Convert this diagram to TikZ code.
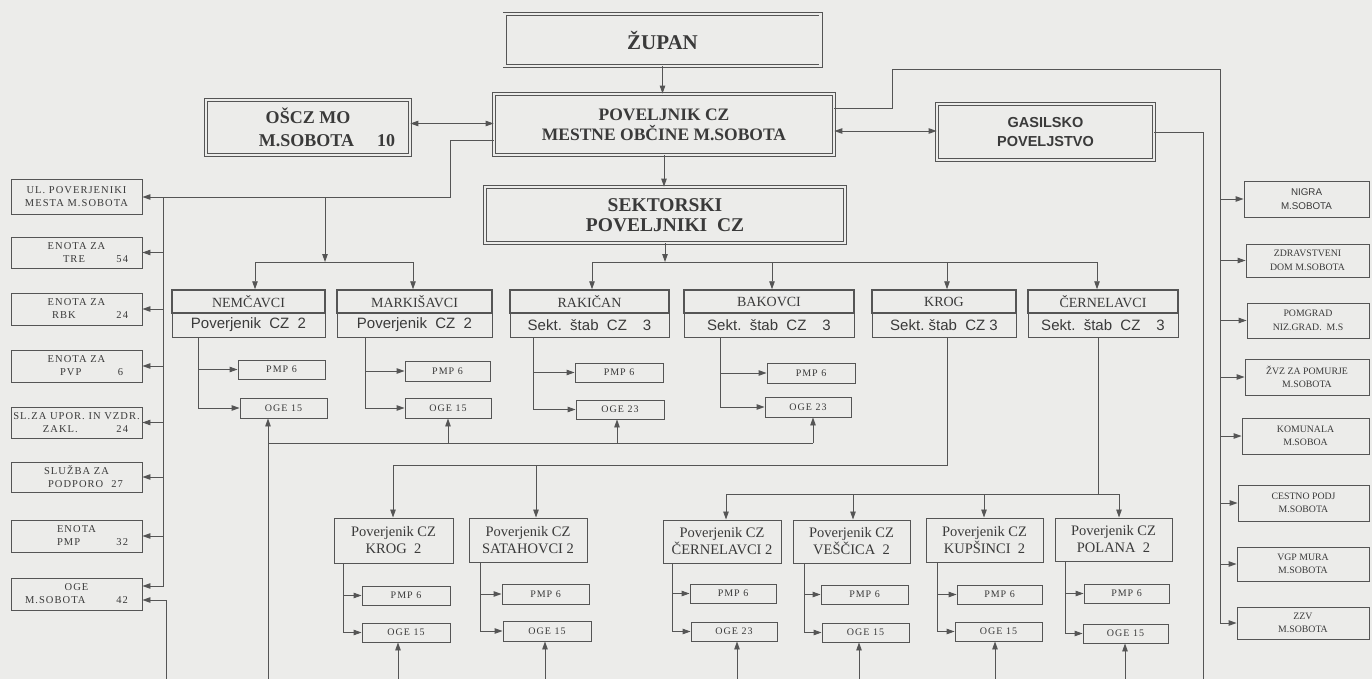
\documentclass[tikz,border=0pt]{standalone}
\usepackage{fontspec}
\setmainfont{Liberation Serif}
\newfontfamily\sansf{Liberation Sans}
\newfontfamily\lsp[LetterSpace=10]{Liberation Serif}
\usetikzlibrary{arrows.meta}
\definecolor{bg}{RGB}{236,236,234}
\definecolor{lc}{RGB}{85,85,85}
\definecolor{tc}{RGB}{58,58,58}
\newcommand\ltwo[4]{\hbox to 131pt{\hspace*{#1pt}#2\hfill#3\hspace*{#4pt}}}
\tikzset{
 wh/.style 2 args={minimum width=#1pt, minimum height=#2pt},
 ln/.style={draw=lc, line width=0.9pt},
 arr/.style={draw=lc, line width=0.9pt, -{Triangle[length=8pt,width=5.5pt]}},
 darr/.style={draw=lc, line width=0.9pt, {Triangle[length=8pt,width=5.5pt]}-{Triangle[length=8pt,width=5.5pt]}},
 big/.style={draw=lc, double=bg, double distance=2.4pt, line width=0.8pt, align=center, text=tc, inner sep=0pt},
 hdr/.style={draw=lc, line width=1.5pt, inner sep=0pt, text=tc, font=\fontsize{14}{16}\selectfont},
 low/.style={draw=lc, line width=1pt, inner sep=0pt, text=tc, font=\sansf\fontsize{15}{17}\selectfont},
 sub/.style={draw=lc, line width=0.9pt, inner sep=0pt, text=tc, font=\lsp\fontsize{10}{12}\selectfont},
 pov/.style={draw=lc, line width=1pt, inner sep=0pt, align=center, text=tc, font=\fontsize{14.5}{17}\selectfont},
 lbox/.style={draw=lc, line width=0.9pt, inner sep=0pt, align=center, text=tc, wh={131}{#1}, font=\lsp\fontsize{10.5}{13}\selectfont},
 rbox/.style={draw=lc, line width=0.9pt, inner sep=0pt, align=center, text=tc, font=\fontsize{9.8}{13.5}\selectfont},
}
\begin{document}
\begin{tikzpicture}[x=1pt,y=-1pt]
\fill[bg] (0,0) rectangle (1372,679);
\useasboundingbox (0,0) rectangle (1372,679);

% top level
\node[big, wh={316}{52}, font=\bfseries\fontsize{21}{24}\selectfont] (zupan) at (662.5,40) {ŽUPAN};
\node[big, wh={340}{61}, font=\bfseries\fontsize{17.5}{20}\selectfont] (povel) at (664,124.5) {POVELJNIK CZ\\MESTNE OBČINE M.SOBOTA};
\node[big, wh={360}{56}, font=\bfseries\fontsize{19.5}{20.5}\selectfont] (sekt) at (665,215) {SEKTORSKI\\POVELJNIKI\ \ CZ};
\node[big, wh={204}{55}, font=\bfseries\fontsize{18}{23}\selectfont] (oscz) at (308,127.5) {OŠCZ MO\\\hspace*{38pt}M.SOBOTA\hspace{23pt}10};
\node[big, wh={217}{56}, font=\sansf\bfseries\fontsize{14.5}{19}\selectfont] (gas) at (1045.5,132) {GASILSKO\\POVELJSTVO};

% left column
\node[lbox=35] (ul) at (76.5,197) {UL. POVERJENIKI\\MESTA M.SOBOTA};
\node[lbox=31] (tre) at (76.5,252.5) {ENOTA ZA\\\ltwo{52}{TRE}{54}{14}};
\node[lbox=32] (rbk) at (76.5,309) {ENOTA ZA\\\ltwo{41}{RBK}{24}{14}};
\node[lbox=32] (pvp) at (76.5,366) {ENOTA ZA\\\ltwo{49}{PVP}{6}{19}};
\node[lbox=31] (sl) at (76.5,422.5) {SL.ZA UPOR. IN VZDR.\\\ltwo{32}{ZAKL.}{24}{14}};
\node[lbox=30] (slu) at (76.5,477) {SLUŽBA ZA\\\ltwo{37}{PODPORO}{27}{19}};
\node[lbox=32] (epmp) at (76.5,536) {ENOTA\\\ltwo{46}{PMP}{32}{14}};
\node[lbox=32] (ogeL) at (76.5,594) {OGE\\\ltwo{14}{M.SOBOTA}{42}{14}};

% right column
\node[rbox, wh={125}{36}, font=\sansf\fontsize{9.8}{13.5}\selectfont] (nigra) at (1306.5,199) {NIGRA\\M.SOBOTA};
\node[rbox, wh={123}{33}] (zdr) at (1307.5,260.5) {ZDRAVSTVENI\\DOM M.SOBOTA};
\node[rbox, wh={122}{35}] (pom) at (1308,320.5) {POMGRAD\\NIZ.GRAD.\ \ M.S};
\node[rbox, wh={124}{36}] (zvz) at (1307,377) {ŽVZ ZA POMURJE\\M.SOBOTA};
\node[rbox, wh={127}{36}] (kom) at (1305.5,436) {KOMUNALA\\M.SOBOA};
\node[rbox, wh={131}{36}] (ces) at (1303.5,503) {CESTNO PODJ\\M.SOBOTA};
\node[rbox, wh={132}{34}] (vgp) at (1303,564) {VGP MURA\\M.SOBOTA};
\node[rbox, wh={132}{32}] (zzv) at (1303,623) {ZZV\\M.SOBOTA};

% sector boxes
\node[low, wh={153}{24}] (nemL) at (248.5,325) {Poverjenik\ \ CZ\ \ 2};
\node[hdr, wh={153}{23}] (nemH) at (248.5,301.5) {NEMČAVCI};
\node[low, wh={155}{24}] (marL) at (414.5,325) {Poverjenik\ \ CZ\ \ 2};
\node[hdr, wh={155}{23}] (marH) at (414.5,301.5) {MARKIŠAVCI};
\node[low, wh={159}{24}] (rakL) at (589.5,325) {Sekt.\ \ štab\ \ CZ\hspace{16pt}3};
\node[hdr, wh={159}{23}] (rakH) at (589.5,301.5) {RAKIČAN};
\node[low, wh={170}{24}] (bakL) at (769,325) {Sekt.\ \ štab\ \ CZ\hspace{16pt}3};
\node[hdr, wh={170}{23}] (bakH) at (769,301.5) {BAKOVCI};
\node[low, wh={144}{24}] (krogL) at (944,325) {Sekt.\ štab\ \ CZ\ 3};
\node[hdr, wh={144}{23}] (krogH) at (944,301.5) {KROG};
\node[low, wh={150}{24}] (cerL) at (1103,325) {Sekt.\ \ štab\ \ CZ\hspace{16pt}3};
\node[hdr, wh={150}{23}] (cerH) at (1103,301.5) {ČERNELAVCI};

% sub boxes row 1
\node[sub, wh={87}{19}] (nemP) at (281.5,369.5) {PMP 6};
\node[sub, wh={87}{20}] (nemO) at (283.5,408) {OGE 15};
\node[sub, wh={85}{20}] (marP) at (447.5,371) {PMP 6};
\node[sub, wh={86}{20}] (marO) at (448,408) {OGE 15};
\node[sub, wh={88}{19}] (rakP) at (619,372.5) {PMP 6};
\node[sub, wh={88}{19}] (rakO) at (620,409.5) {OGE 23};
\node[sub, wh={88}{20}] (bakP) at (811,373) {PMP 6};
\node[sub, wh={86}{20}] (bakO) at (808,407) {OGE 23};

% row 2 boxes
\node[pov, wh={119}{45}] (krog2) at (393.5,540.5) {Poverjenik CZ\\KROG\ \ 2};
\node[pov, wh={118}{44}] (sat) at (528,540) {Poverjenik CZ\\SATAHOVCI\ 2};
\node[pov, wh={118}{43}] (cer2) at (722,541.5) {Poverjenik CZ\\ČERNELAVCI\ 2};
\node[pov, wh={117}{43}] (ves) at (851.5,541.5) {Poverjenik CZ\\VEŠČICA\ \ 2};
\node[pov, wh={117}{44}] (kup) at (984.5,540) {Poverjenik CZ\\KUPŠINCI\ \ 2};
\node[pov, wh={117}{43}] (pol) at (1113.5,539.5) {Poverjenik CZ\\POLANA\ \ 2};

% row 2 subs
\node[sub, wh={88}{19}] (krog2P) at (406,595.5) {PMP 6};
\node[sub, wh={88}{19}] (krog2O) at (406,632.5) {OGE 15};
\node[sub, wh={87}{20}] (satP) at (545.5,594) {PMP 6};
\node[sub, wh={88}{20}] (satO) at (547,631) {OGE 15};
\node[sub, wh={86}{19}] (cer2P) at (733,593.5) {PMP 6};
\node[sub, wh={86}{19}] (cer2O) at (734,631.5) {OGE 23};
\node[sub, wh={87}{19}] (vesP) at (864.5,594.5) {PMP 6};
\node[sub, wh={87}{19}] (vesO) at (865.5,632.5) {OGE 15};
\node[sub, wh={85}{19}] (kupP) at (999.5,594.5) {PMP 6};
\node[sub, wh={87}{19}] (kupO) at (998.5,631.5) {OGE 15};
\node[sub, wh={85}{19}] (polP) at (1126.5,593.5) {PMP 6};
\node[sub, wh={85}{19}] (polO) at (1125.5,633.5) {OGE 15};

% free ends at the bottom edge
\coordinate (bL) at (166,679);
\coordinate (bN) at (268,679);
\coordinate (bG) at (1203,679);
\foreach \n/\x in {krog2O/398,satO/545,cer2O/737,vesO/859,kupO/995,polO/1125}
  \coordinate (b\n) at (\x,679);

% top connectors
\draw[arr] (zupan.south) -- (zupan.south |- povel.north);
\draw[arr] (povel.south) -- (povel.south |- sekt.north);
\coordinate (oe) at ([yshift=4pt]oscz.east);
\draw[darr] (oe) -- (oe -| povel.west);
\coordinate (ge) at ([yshift=-6.5pt]povel.east);
\draw[darr] (ge) -- (ge -| gas.west);
\draw[ln] (gas.east) -| (bG);

% right bus
\draw[arr] ([yshift=16.5pt]povel.east) -| (892,69) -| (1220,623) -- (zzv.west);
\foreach \n in {nigra,zdr,pom,zvz,kom,ces,vgp}
  \draw[arr] (1220,0 |- \n.west) -- (\n.west);

% left bus
\draw[arr] ([yshift=-15.5pt]povel.west) -| (450,197) -- (ul.east);
\draw[arr] (163,197) -- (163,586) -- ([yshift=8pt]ogeL.east);
\foreach \n in {tre,rbk,pvp,sl,slu,epmp}
  \draw[arr] (163,0 |- \n.east) -- (\n.east);
\draw[arr] (bL) -- (166,600) -- ([yshift=-6pt]ogeL.east);

% to NEMCAVCI / MARKISAVCI
\draw[arr] (325,197) -- (325,262);
\draw[ln] (255,262) -- (413,262);
\draw[arr] (255,262) -- (255,0 |- nemH.north);
\draw[arr] (413,262) -- (413,0 |- marH.north);

% sector bus
\draw[arr] (sekt.south) -- (sekt.south |- 0,262);
\draw[ln] (592,262) -- (1097,262);
\draw[arr] (592,262) -- (592,0 |- rakH.north);
\draw[arr] (772,262) -- (772,0 |- bakH.north);
\draw[arr] (947,262) -- (947,0 |- krogH.north);
\draw[arr] (1097,262) -- (1097,0 |- cerH.north);

% branches row 1
\foreach \s/\x in {nem/198,mar/365,rak/533,bak/720}{
  \draw[arr] (\x,0 |- \s L.south) |- (\s O.west);
  \draw[arr] (\x,0 |- \s P.west) -- (\s P.west);
}

% upper OGE bus
\draw[arr] (bN) -- (268,0 |- nemO.south);
\draw[ln] (268,443) -- (813,443);
\draw[arr] (448,443) -- (448,0 |- marO.south);
\draw[arr] (617,443) -- (617,0 |- rakO.south);
\draw[arr] (813,443) -- (813,0 |- bakO.south);

% KROG group
\draw[ln] (947,0 |- krogL.south) -- (947,465) -- (393,465);
\draw[arr] (393,465) -- (393,0 |- krog2.north);
\draw[arr] (536,465) -- (536,0 |- sat.north);

% CERNELAVCI group
\draw[ln] (1098,0 |- cerL.south) -- (1098,494);
\draw[ln] (726,494) -- (1119,494);
\draw[arr] (726,494) -- (726,0 |- cer2.north);
\draw[arr] (853,494) -- (853,0 |- ves.north);
\draw[arr] (984,494) -- (984,0 |- kup.north);
\draw[arr] (1119,494) -- (1119,0 |- pol.north);

% branches row 2
\foreach \s/\x in {krog2/343,sat/480,cer2/672,ves/804,kup/937,pol/1065}{
  \draw[arr] (\x,0 |- \s.south) |- (\s O.west);
  \draw[arr] (\x,0 |- \s P.west) -- (\s P.west);
}

% up arrows from bottom
\foreach \n in {krog2O,satO,cer2O,vesO,kupO,polO}
  \draw[arr] (b\n) -- (b\n |- \n.south);
\end{tikzpicture}
\end{document}
